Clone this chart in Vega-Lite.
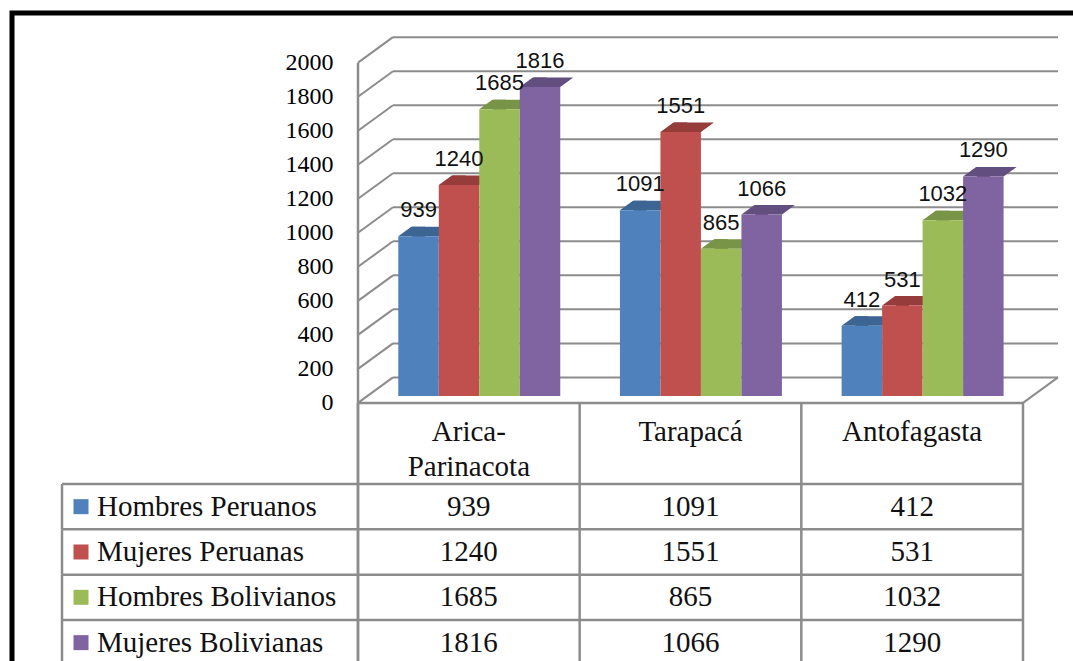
{
  "$schema": "https://vega.github.io/schema/vega-lite/v6.json",
  "width": 1071,
  "height": 658,
  "autosize": {"type": "none"},
  "padding": {"left": 12, "top": 13, "right": 0, "bottom": 0},
  "background": "white",
  "config": {
    "view": {"stroke": "#000000", "strokeWidth": 5},
    "font": "Liberation Serif",
    "axisY": {"labelFont": "Liberation Serif", "labelFontSize": 24, "labelColor": "#000000"}
  },
  "datasets": {
    "values": [
      {"region": "Arica-Parinacota", "series": "Hombres Peruanos", "value": 939},
      {"region": "Arica-Parinacota", "series": "Mujeres Peruanas", "value": 1240},
      {"region": "Arica-Parinacota", "series": "Hombres Bolivianos", "value": 1685},
      {"region": "Arica-Parinacota", "series": "Mujeres Bolivianas", "value": 1816},
      {"region": "Tarapacá", "series": "Hombres Peruanos", "value": 1091},
      {"region": "Tarapacá", "series": "Mujeres Peruanas", "value": 1551},
      {"region": "Tarapacá", "series": "Hombres Bolivianos", "value": 865},
      {"region": "Tarapacá", "series": "Mujeres Bolivianas", "value": 1066},
      {"region": "Antofagasta", "series": "Hombres Peruanos", "value": 412},
      {"region": "Antofagasta", "series": "Mujeres Peruanas", "value": 531},
      {"region": "Antofagasta", "series": "Hombres Bolivianos", "value": 1032},
      {"region": "Antofagasta", "series": "Mujeres Bolivianas", "value": 1290}
    ],
    "grid": [
      {"v": 0}, {"v": 200}, {"v": 400}, {"v": 600}, {"v": 800}, {"v": 1000},
      {"v": 1200}, {"v": 1400}, {"v": 1600}, {"v": 1800}, {"v": 2000}
    ],
    "regions": [
      {"region": "Arica-Parinacota", "label": "Arica-\nParinacota"},
      {"region": "Tarapacá", "label": "Tarapacá"},
      {"region": "Antofagasta", "label": "Antofagasta"}
    ],
    "series": [
      {"series": "Hombres Peruanos"},
      {"series": "Mujeres Peruanas"},
      {"series": "Hombres Bolivianos"},
      {"series": "Mujeres Bolivianas"}
    ]
  },
  "resolve": {"scale": {"y": "independent", "color": "independent"}},
  "layer": [
    {
      "resolve": {"scale": {"color": "independent"}},
      "layer": [
        {
          "data": {"name": "grid"},
          "mark": {"type": "rule", "color": "#8c8c8c", "strokeWidth": 2, "xOffset": 35, "x2Offset": 35, "yOffset": -25.5},
          "encoding": {
            "x": {
              "datum": "Arica-Parinacota", "type": "nominal", "bandPosition": 0,
              "scale": {"type": "band", "domain": ["Arica-Parinacota", "Tarapacá", "Antofagasta"], "paddingInner": 0, "paddingOuter": 0.9158, "align": 0.8522},
              "axis": null
            },
            "x2": {"datum": "Antofagasta", "bandPosition": 1},
            "y": {
              "field": "v", "type": "quantitative",
              "scale": {"domain": [-1576, 2292], "nice": false, "zero": false},
              "axis": {
                "values": [0, 200, 400, 600, 800, 1000, 1200, 1400, 1600, 1800, 2000],
                "format": "d",
                "offset": -346, "domain": false, "ticks": false, "grid": false,
                "labelPadding": 25, "labelFont": "Liberation Serif", "labelFontSize": 24,
                "labelColor": "#000000", "title": null
              }
            }
          }
        },
        {
          "data": {"name": "grid"},
          "mark": {"type": "rule", "color": "#8c8c8c", "strokeWidth": 2, "x2Offset": 35, "y2Offset": -25.5},
          "encoding": {
            "x": {"datum": "Arica-Parinacota", "type": "nominal", "bandPosition": 0},
            "x2": {"datum": "Arica-Parinacota", "bandPosition": 0},
            "y": {"field": "v", "type": "quantitative"},
            "y2": {"field": "v"}
          }
        },
        {
          "data": {"values": [{}]},
          "mark": {"type": "rule", "color": "#8c8c8c", "strokeWidth": 2, "x2Offset": 35, "y2Offset": -25.5},
          "encoding": {
            "x": {"datum": "Antofagasta", "type": "nominal", "bandPosition": 1},
            "x2": {"datum": "Antofagasta", "bandPosition": 1},
            "y": {"datum": 0, "type": "quantitative"},
            "y2": {"datum": 0}
          }
        },
        {
          "data": {"values": [{}]},
          "mark": {"type": "rule", "color": "#8c8c8c", "strokeWidth": 2.5},
          "encoding": {
            "x": {"datum": "Arica-Parinacota", "type": "nominal", "bandPosition": 0},
            "x2": {"datum": "Antofagasta", "bandPosition": 1},
            "y": {"datum": 0, "type": "quantitative"}
          }
        },
        {
          "data": {"values": [{}]},
          "mark": {"type": "rule", "color": "#8c8c8c", "strokeWidth": 2.5},
          "encoding": {
            "x": {"datum": "Arica-Parinacota", "type": "nominal", "bandPosition": 0},
            "y": {"datum": 2000, "type": "quantitative"},
            "y2": {"datum": -1576}
          }
        },
        {
          "data": {"name": "regions"},
          "mark": {"type": "rule", "color": "#8c8c8c", "strokeWidth": 2.5},
          "encoding": {
            "x": {"field": "region", "type": "nominal", "bandPosition": 0},
            "y": {"datum": 0, "type": "quantitative"},
            "y2": {"datum": -1576}
          }
        },
        {
          "data": {"values": [{}]},
          "mark": {"type": "rule", "color": "#8c8c8c", "strokeWidth": 2.5},
          "encoding": {
            "x": {"datum": "Antofagasta", "type": "nominal", "bandPosition": 1},
            "y": {"datum": 0, "type": "quantitative"},
            "y2": {"datum": -1576}
          }
        },
        {
          "data": {"name": "regions"},
          "mark": {"type": "text", "align": "center", "baseline": "alphabetic", "dy": 38, "lineBreak": "\n", "lineHeight": 35, "font": "Liberation Serif", "fontSize": 29, "color": "#111111"},
          "encoding": {
            "x": {"field": "region", "type": "nominal"},
            "y": {"datum": 0, "type": "quantitative"},
            "text": {"field": "label"}
          }
        },
        {
          "data": {"name": "values"},
          "mark": {"type": "rule", "strokeWidth": 13, "yOffset": -16.5, "y2Offset": -11.75},
          "encoding": {
            "x": {"field": "region", "type": "nominal"},
            "xOffset": {
              "field": "series", "type": "nominal", "bandPosition": 1.16,
              "scale": {"domain": ["Hombres Peruanos", "Mujeres Peruanas", "Hombres Bolivianos", "Mujeres Bolivianas"], "paddingInner": 0, "paddingOuter": 0.737, "align": 0.675}
            },
            "y": {"field": "value", "type": "quantitative"},
            "y2": {"datum": 0},
            "color": {
              "field": "series", "type": "nominal",
              "scale": {"domain": ["Hombres Peruanos", "Mujeres Peruanas", "Hombres Bolivianos", "Mujeres Bolivianas"], "range": ["#385D8A", "#7F302E", "#67803A", "#53406B"]},
              "legend": null
            }
          }
        },
        {
          "data": {"name": "values"},
          "mark": {"type": "point", "shape": "M -0.5956 -0.2059 L 0.5956 -0.2059 L 0.9779 -0.4853 L -0.2132 -0.4853 Z", "size": 4624, "filled": true, "opacity": 1, "strokeWidth": 0},
          "encoding": {
            "x": {"field": "region", "type": "nominal"},
            "xOffset": {"field": "series", "type": "nominal"},
            "y": {"field": "value", "type": "quantitative"},
            "color": {
              "field": "series", "type": "nominal",
              "scale": {"domain": ["Hombres Peruanos", "Mujeres Peruanas", "Hombres Bolivianos", "Mujeres Bolivianas"], "range": ["#3D6594", "#963C3A", "#789446", "#634E80"]},
              "legend": null
            }
          }
        },
        {
          "data": {"name": "values"},
          "mark": {"type": "bar", "yOffset": -7, "y2Offset": -7},
          "encoding": {
            "x": {"field": "region", "type": "nominal"},
            "xOffset": {"field": "series", "type": "nominal"},
            "y": {"field": "value", "type": "quantitative"},
            "y2": {"datum": 0},
            "color": {
              "field": "series", "type": "nominal",
              "scale": {"domain": ["Hombres Peruanos", "Mujeres Peruanas", "Hombres Bolivianos", "Mujeres Bolivianas"], "range": ["#4F81BD", "#C0504D", "#9BBB59", "#8064A2"]},
              "legend": null
            }
          }
        },
        {
          "data": {"name": "values"},
          "mark": {"type": "text", "align": "center", "baseline": "alphabetic", "dy": -26, "font": "Liberation Sans", "fontSize": 22, "color": "#111111"},
          "encoding": {
            "x": {"field": "region", "type": "nominal"},
            "xOffset": {"field": "series", "type": "nominal"},
            "y": {"field": "value", "type": "quantitative"},
            "text": {"field": "value", "type": "quantitative"}
          }
        }
      ]
    },
    {
      "layer": [
        {
          "data": {"name": "series"},
          "mark": {"type": "rule", "color": "#8c8c8c", "strokeWidth": 2.5},
          "encoding": {
            "y": {
              "field": "series", "type": "nominal", "bandPosition": 0,
              "scale": {"type": "band", "domain": ["Hombres Peruanos", "Mujeres Peruanas", "Hombres Bolivianos", "Mujeres Bolivianas"], "range": [471, 652.3], "paddingInner": 0, "paddingOuter": 0},
              "axis": null
            },
            "x": {"datum": "Arica-Parinacota", "type": "nominal", "bandPosition": -1.3353},
            "x2": {"datum": "Antofagasta", "bandPosition": 1}
          }
        },
        {
          "data": {"name": "series"},
          "mark": {"type": "rule", "color": "#8c8c8c", "strokeWidth": 2.5},
          "encoding": {
            "x": {"datum": "Arica-Parinacota", "type": "nominal", "bandPosition": -1.3353},
            "y": {"field": "series", "type": "nominal", "bandPosition": 0},
            "y2": {"field": "series", "bandPosition": 1}
          }
        },
        {
          "data": {"name": "values"},
          "mark": {"type": "text", "align": "center", "baseline": "middle", "font": "Liberation Serif", "fontSize": 29, "color": "#111111"},
          "encoding": {
            "x": {"field": "region", "type": "nominal"},
            "y": {"field": "series", "type": "nominal"},
            "text": {"field": "value", "type": "quantitative"}
          }
        },
        {
          "data": {"name": "series"},
          "mark": {"type": "point", "shape": "square", "size": 225, "filled": true, "opacity": 1, "strokeWidth": 0},
          "encoding": {
            "x": {"datum": "Arica-Parinacota", "type": "nominal", "bandPosition": -1.2496},
            "y": {"field": "series", "type": "nominal"},
            "color": {
              "field": "series", "type": "nominal",
              "scale": {"domain": ["Hombres Peruanos", "Mujeres Peruanas", "Hombres Bolivianos", "Mujeres Bolivianas"], "range": ["#4F81BD", "#C0504D", "#9BBB59", "#8064A2"]},
              "legend": null
            }
          }
        },
        {
          "data": {"name": "series"},
          "mark": {"type": "text", "align": "left", "baseline": "middle", "font": "Liberation Serif", "fontSize": 29, "color": "#111111"},
          "encoding": {
            "x": {"datum": "Arica-Parinacota", "type": "nominal", "bandPosition": -1.1774},
            "y": {"field": "series", "type": "nominal"},
            "text": {"field": "series"}
          }
        }
      ]
    }
  ]
}
